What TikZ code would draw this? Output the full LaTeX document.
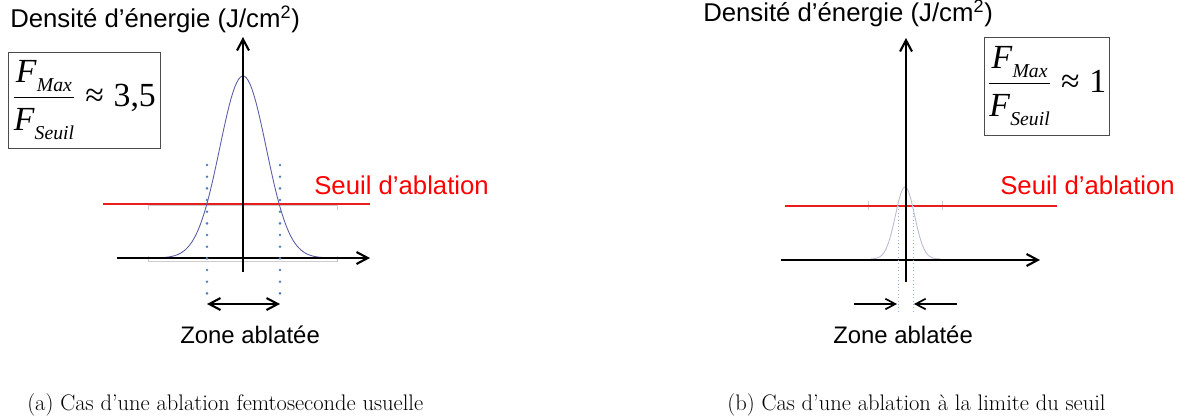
\documentclass[tikz,border=0pt]{standalone}
\usepackage{amsmath}
\usepackage{fontspec}
\setsansfont{Liberation Sans}
\newfontfamily\timesfont{Liberation Serif}
\usetikzlibrary{arrows.meta,positioning}
\definecolor{seuilred}{RGB}{232,30,30}
\definecolor{profil}{RGB}{88,88,165}
\definecolor{profilpale}{RGB}{185,185,210}
\definecolor{pointille}{RGB}{79,129,189}
\definecolor{grille}{RGB}{205,205,205}
\newcommand{\Fsub}[1]{\textit{F}\raisebox{-0.28em}{\fontsize{14}{14}\selectfont\textit{#1}}}
\newcommand{\environ}{\mathrel{\text{≈}}}
\tikzstyle{legende} = [font=\sffamily\fontsize{17}{20}\selectfont, inner sep=0pt, anchor=base west]
\tikzstyle{titre} = [legende, font=\sffamily\fontsize{18.3}{21}\selectfont]
\tikzstyle{seuil} = [titre, text=red]
\tikzstyle{ratio} = [draw=black!70, line width=0.6pt, inner sep=1pt,
    font=\timesfont\fontsize{24}{28}\selectfont]
\tikzstyle{soustitre} = [font=\fontsize{16}{19}\selectfont, inner sep=0pt, anchor=base west]
\tikzstyle{axe} = [line width=1.2pt, -{Straight Barb[length=8pt,width=8.5pt,line width=1.5pt]}]
\tikzstyle{zone} = [line width=1.5pt, {Straight Barb[length=8pt,width=8.5pt,line width=1.5pt]}-{Straight Barb[length=8pt,width=8.5pt,line width=1.5pt]}]
\tikzstyle{fleche} = [line width=1pt, -{Straight Barb[length=7pt,width=7.5pt,line width=1.2pt]}]

\begin{document}
\begin{tikzpicture}[x=0.025cm, y=-0.025cm]
\useasboundingbox (0,0) rectangle (1188,417);

% (a) ablation usuelle
\coordinate (ya1) at (243,272);
\coordinate (yb1) at (243,37);
\coordinate (xa1) at (117,258);
\coordinate (xb1) at (370,258);
\coordinate (sa1) at (103,204);
\coordinate (sb1) at (370,204);
\coordinate (zg1) at (207,304);
\coordinate (zd1) at (280,304);

\draw[grille] (148,205) -- (337,205) (148,261) -- (337,261);
\draw[grille] (148,204) -- (148,210) (337,204) -- (337,210)
    (148,256) -- (148,262) (337,256) -- (337,262);
\draw[seuilred, line width=0.8pt] (sa1) -- (sb1);
\draw[profil, line width=0.6pt] plot[domain=-86:87, samples=90]
    ({243+\x}, {258-182*exp(-(\x)*(\x)/1076)});
\draw[axe] (ya1) -- (yb1);
\draw[axe] (xa1) -- (xb1);
\draw[pointille, line width=2pt, line cap=round, dash pattern=on 0pt off 8.3pt]
    (207,165) -- (zg1) (280,165) -- (zd1);
\draw[zone] (zg1) -- (zd1);

\node[titre, name=titre1] at (10,27) {Densité d’énergie (J/cm\textsuperscript{2})};
\node[seuil, name=seuil1] at (314,194) {Seuil d’ablation};
\node[legende, name=zone1] at (180,343) {Zone ablatée};
\node[ratio, name=ratio1, minimum width=152*0.025cm, minimum height=96*0.025cm] at (84,100)
    {$\dfrac{\text{\Fsub{Max}}}{\text{\Fsub{Seuil}}}\environ\text{3,5}$};
\node[soustitre, name=leg1] at (27,410) {(a) Cas d’une ablation femtoseconde usuelle};

% (b) ablation au seuil
\coordinate (ya2) at (906,282);
\coordinate (yb2) at (906,38);
\coordinate (xa2) at (781,260);
\coordinate (xb2) at (1040,260);
\coordinate (sa2) at (785,206);
\coordinate (sb2) at (1057,206);
\coordinate (zg2) at (897,304);
\coordinate (zd2) at (914,304);
\coordinate (fg2) at (854,304);
\coordinate (fd2) at (957,304);

\draw[grille] (868,206) -- (942,206);
\draw[grille] (868,201) -- (868,210) (942,201) -- (942,210);
\draw[seuilred, line width=0.8pt] (sa2) -- (sb2);
\draw[profilpale, line width=0.6pt] plot[domain=-34:35, samples=70]
    ({905+\x}, {259-72*exp(-(\x)*(\x)/184)});
\draw[axe] (ya2) -- (yb2);
\draw[axe] (xa2) -- (xb2);
\draw[pointille!60, line width=0.4pt, dotted] (898,206) -- (898,312) (913,206) -- (913,312);
\draw[fleche] (fg2) -- (zg2);
\draw[fleche] (fd2) -- (zd2);

\node[titre, name=titre2] at (703,21) {Densité d’énergie (J/cm\textsuperscript{2})};
\node[seuil, name=seuil2] at (1000,194) {Seuil d’ablation};
\node[legende, name=zone2] at (833,343) {Zone ablatée};
\node[ratio, name=ratio2, minimum width=125*0.025cm, minimum height=98*0.025cm] at (1047,86)
    {$\dfrac{\text{\Fsub{Max}}}{\text{\Fsub{Seuil}}}\environ\text{1}$};
\node[soustitre, name=leg2] at (727,410) {(b) Cas d’une ablation à la limite du seuil};
\end{tikzpicture}
\end{document}
